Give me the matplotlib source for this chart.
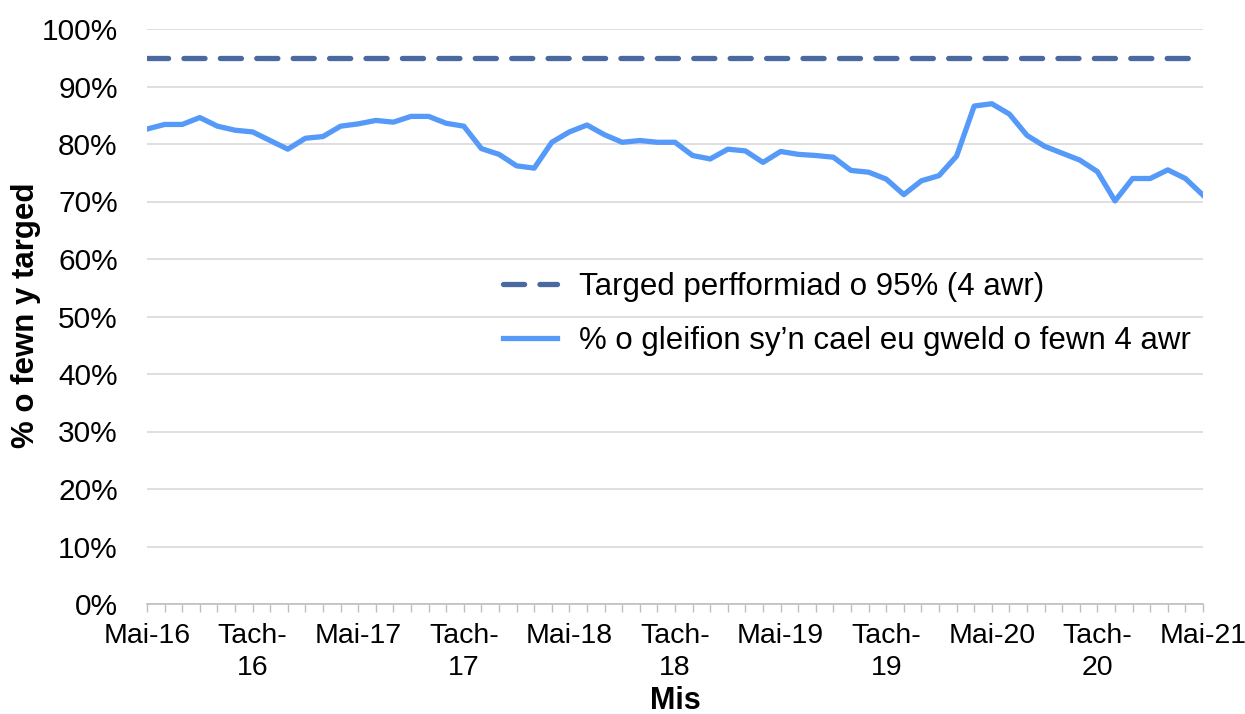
import matplotlib.pyplot as plt
from matplotlib.ticker import FuncFormatter, MultipleLocator

plt.rcParams['font.family'] = ['Liberation Sans', 'DejaVu Sans']

# monthly values, May 2016 .. May 2021
seen_4h = [82.6, 83.4, 83.4, 84.6, 83.1, 82.4, 82.1, 80.6, 79.1, 81.0,
           81.3, 83.1, 83.5, 84.1, 83.8, 84.8, 84.8, 83.6, 83.1, 79.2,
           78.2, 76.2, 75.8, 80.3, 82.1, 83.3, 81.6, 80.3, 80.6, 80.3,
           80.3, 78.0, 77.4, 79.1, 78.8, 76.8, 78.7, 78.2, 78.0, 77.7,
           75.4, 75.1, 73.9, 71.2, 73.6, 74.5, 77.9, 86.6, 87.0, 85.2,
           81.5, 79.6, 78.4, 77.2, 75.2, 70.1, 74.0, 74.0, 75.5, 74.0,
           71.1]
target = [95] * len(seen_4h)
months = list(range(len(seen_4h)))
tick_pos = [0, 6, 12, 18, 24, 30, 36, 42, 48, 54, 60]
tick_labels = ['Mai-16', 'Tach-\n16', 'Mai-17', 'Tach-\n17', 'Mai-18', 'Tach-\n18',
               'Mai-19', 'Tach-\n19', 'Mai-20', 'Tach-\n20', 'Mai-21']

fig = plt.figure(figsize=(12.45, 7.14), dpi=100)
ax = fig.add_axes([147/1245, 1 - 604/714, (1203 - 147)/1245, (604 - 29)/714])

ax.plot(months, target, color='#4A69A0', lw=3.8, dashes=(4.0, 2.9),
        dash_capstyle='round', label='Targed perfformiad o 95% (4 awr)', zorder=3)
ax.plot(months, seen_4h, color='#559AF8', lw=3.8, solid_joinstyle='round',
        label='% o gleifion sy\u2019n cael eu gweld o fewn 4 awr', zorder=3)

ax.set_xlim(0, 60)
ax.set_ylim(0, 100)
ax.yaxis.set_major_locator(MultipleLocator(10))
ax.yaxis.set_major_formatter(FuncFormatter(lambda v, p: f'{v:.0f}%'))
ax.grid(axis='y', color='#D9D9D9', lw=1.2)
ax.set_axisbelow(True)

ax.set_xticks(months, minor=True)
ax.set_xticks(tick_pos)
ax.set_xticklabels(tick_labels, linespacing=1.3)
ax.tick_params(axis='x', which='both', length=6, color='#BFBFBF', width=1)
ax.tick_params(axis='x', labelsize=20.5, pad=8)
ax.tick_params(axis='y', length=0, labelsize=21.5, pad=21)

for s in ['top', 'right', 'left']:
    ax.spines[s].set_visible(False)
ax.spines['bottom'].set_color('#BFBFBF')
ax.spines['bottom'].set_linewidth(1.2)

ax.set_xlabel('Mis', fontsize=22, fontweight='bold')
ax.xaxis.set_label_coords(0.5, -(686 - 604) / 575)
ax.set_ylabel('% o fewn y targed', fontsize=22.5, fontweight='bold')
ax.yaxis.set_label_coords(-(147 - 41) / 1056, (604 - 315) / 575)

ax.legend(loc='upper left', bbox_to_anchor=(0.322, 0.605), frameon=False, borderpad=0,
          fontsize=22.5, handlelength=1.75, labelspacing=0.78, handletextpad=0.7)

fig.savefig('out.png', dpi=100)
